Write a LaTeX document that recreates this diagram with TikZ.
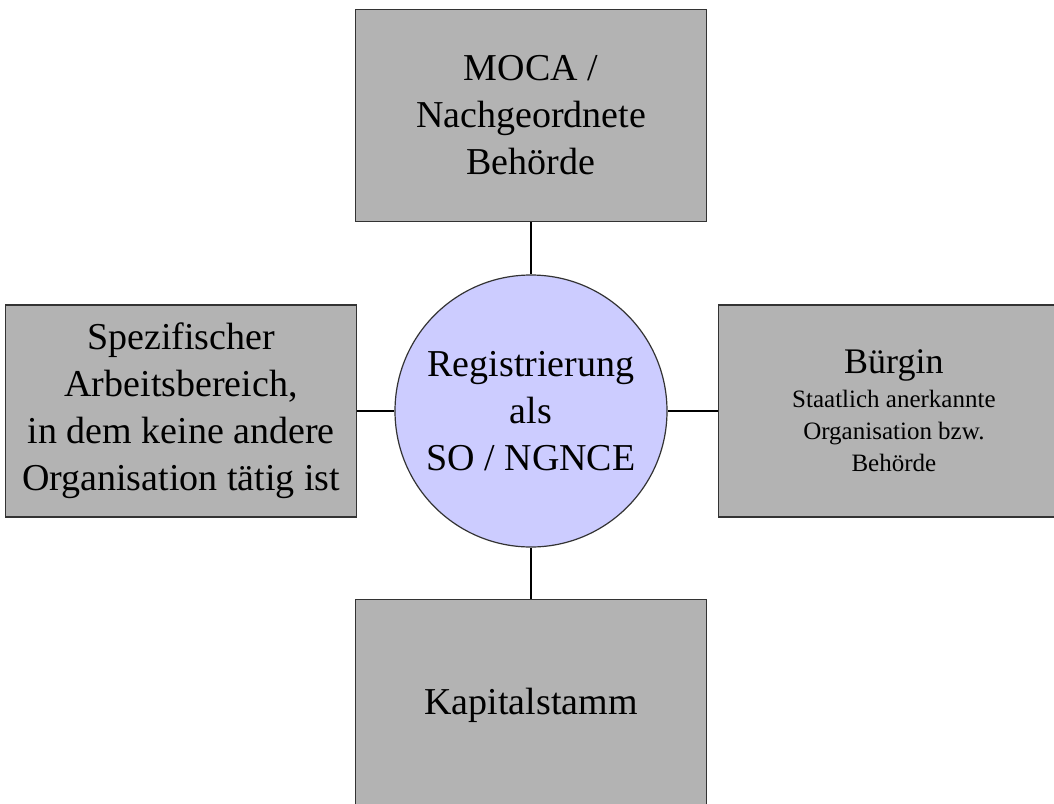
\documentclass[tikz,border=0pt]{standalone}
\usepackage{fontspec}
\setmainfont{Liberation Serif}
\usetikzlibrary{positioning}
\definecolor{boxgray}{RGB}{179,179,179}
\definecolor{hubblue}{RGB}{204,204,255}
\newcommand{\bigtext}{\fontsize{38}{47}\selectfont}
\newcommand{\smalltext}{\fontsize{25}{32}\selectfont}
\tikzset{
    auto, node distance = 50pt,
    part/.style = { draw=black!80, line width=1.6pt, rectangle, align=center,
        fill=boxgray,
        font=\bigtext,
        minimum width = 351pt,
        minimum height = 212pt
    },
    hub/.style = { draw=black!80, line width=1.2pt, circle, align=center,
        fill=hubblue,
        font=\bigtext,
        inner sep = 0pt,
        minimum size = 272pt
    },
    link/.style = { line width=1.4pt, black }
}
\begin{document}
\begin{tikzpicture}[x=1pt, y=1pt]
        \useasboundingbox (0,0) rectangle (1054,-803);
        \clip (0,0) rectangle (1054,-803);
        \fill[white] (0,0) rectangle (1054,-803);

        % centre...
        \node[hub] (reg) at (531,-411) {Registrierung\\als\\SO / NGNCE};
        % four boxes round it...
        \node[part] (moca) [above = 52pt of reg] {MOCA /\\Nachgeordnete\\Behörde};
        \node[part] (bereich) [left = 37pt of reg] {Spezifischer\\Arbeitsbereich,\\in dem keine andere\\Organisation tätig ist};
        \node[part, font=\smalltext] (buerge) [right = 50pt of reg] {{\fontsize{36}{40}\selectfont Bürgin}\\[2pt]Staatlich anerkannte\\Organisation bzw.\\Behörde};
        \node[part] (kapital) [below = 51pt of reg] {Kapitalstamm};

        % links...
        \draw[link] (moca) -- (reg);
        \draw[link] (bereich) -- (reg);
        \draw[link] (buerge) -- (reg);
        \draw[link] (kapital) -- (reg);
\end{tikzpicture}
\end{document}
